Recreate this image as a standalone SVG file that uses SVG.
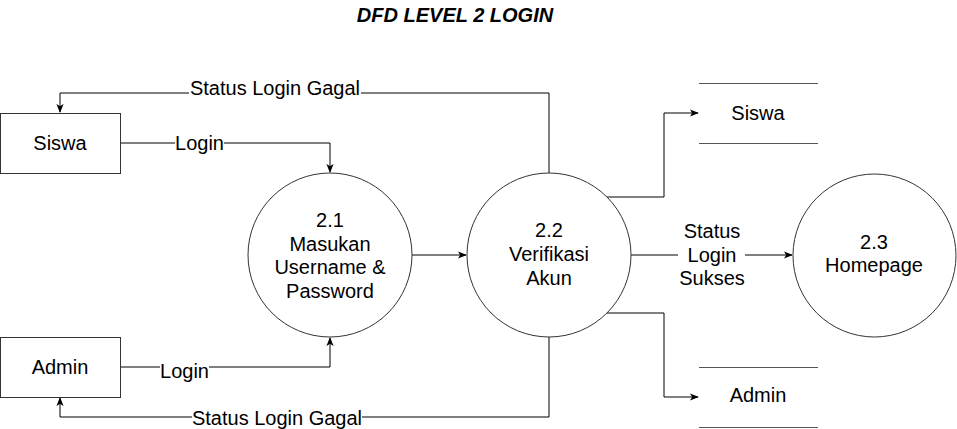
<svg xmlns="http://www.w3.org/2000/svg" width="957" height="429" viewBox="0 0 957 429">
<defs>
<marker id="arr" viewBox="0 0 10 10" refX="9" refY="5" markerWidth="9" markerHeight="9" markerUnits="userSpaceOnUse" orient="auto">
<path d="M0,1 L10,5 L0,9 L2.5,5 Z" fill="#000"/>
</marker>
</defs>
<style>
text{font-family:"Liberation Sans",Arial,Helvetica,sans-serif;font-size:20px;fill:#000;text-anchor:middle}
.title{font-weight:bold;font-style:italic}
.shape{fill:#fff;stroke:#333;stroke-width:1}
.store{stroke:#555;stroke-width:1;fill:none}
.edge{fill:none;stroke:#000;stroke-width:1;marker-end:url(#arr)}
.lbg{fill:#fff}
</style>
<rect width="957" height="429" fill="#fff"/>
<text class="title" x="455" y="22">DFD LEVEL 2 LOGIN</text>

<g id="connectors">
<path class="edge" d="M120,143 H330 V172"/>
<path class="edge" d="M120,367 H330 V338"/>
<path class="edge" d="M549,173 V93 H60 V112"/>
<path class="edge" d="M549,337 V417 H60 V398"/>
<path class="edge" d="M412,255 H466"/>
<path class="edge" d="M631,255 H792"/>
<path class="edge" d="M607,197 H664 V113 H698"/>
<path class="edge" d="M607,313 H664 V397 H698"/>
<rect class="lbg" x="189" y="78" width="172" height="22"/>
<text x="275" y="95">Status Login Gagal</text>
<rect class="lbg" x="175" y="132" width="49" height="22"/>
<text x="199.5" y="150">Login</text>
<rect class="lbg" x="160" y="360" width="49" height="22"/>
<text x="184.5" y="378">Login</text>
<rect class="lbg" x="192" y="407" width="170" height="22"/>
<text x="277" y="425">Status Login Gagal</text>
<rect class="lbg" x="678" y="220" width="67" height="72"/>
<text x="712" y="238">Status</text>
<text x="712" y="261.5">Login</text>
<text x="712" y="285">Sukses</text>
</g>

<g id="siswa">
<rect class="shape" x="0.5" y="113.5" width="120" height="60"/>
<text x="60" y="150">Siswa</text>
</g>
<g id="admin">
<rect class="shape" x="0.5" y="337.5" width="120" height="60"/>
<text x="60" y="373.5">Admin</text>
</g>
<g id="p21">
<circle class="shape" cx="330" cy="255" r="82"/>
<text x="330" y="226.5">2.1</text>
<text x="330" y="250.5">Masukan</text>
<text x="330" y="274">Username &amp;</text>
<text x="330" y="297.5">Password</text>
</g>
<g id="p22">
<circle class="shape" cx="549" cy="255" r="82"/>
<text x="549" y="237">2.2</text>
<text x="549" y="260.5">Verifikasi</text>
<text x="549" y="284.5">Akun</text>
</g>
<g id="p23">
<circle class="shape" cx="874.5" cy="255.5" r="81.5"/>
<text x="874" y="249">2.3</text>
<text x="874" y="272">Homepage</text>
</g>
<g id="ds-siswa">
<line class="store" x1="699" y1="83.5" x2="818" y2="83.5"/>
<line class="store" x1="699" y1="143.5" x2="818" y2="143.5"/>
<text x="758" y="120">Siswa</text>
</g>
<g id="ds-admin">
<line class="store" x1="699" y1="367.5" x2="818" y2="367.5"/>
<line class="store" x1="699" y1="427.5" x2="818" y2="427.5"/>
<text x="758" y="402">Admin</text>
</g>
</svg>
